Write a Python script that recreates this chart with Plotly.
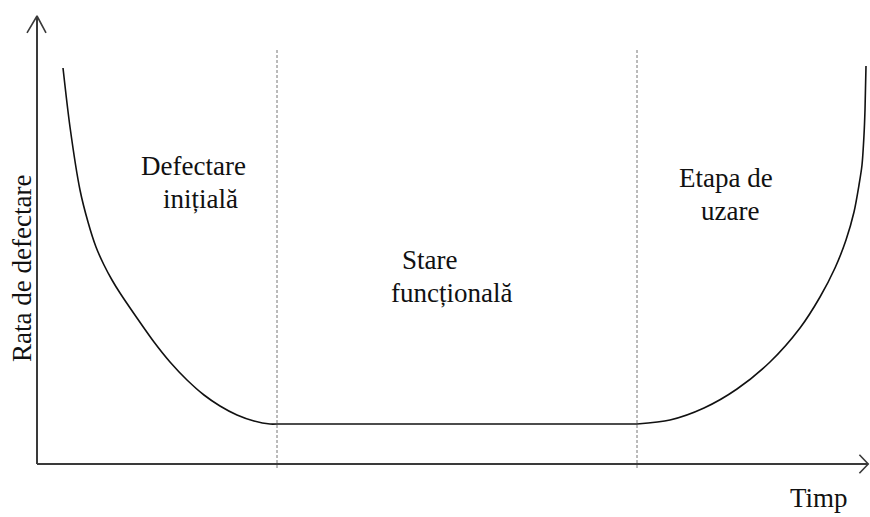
import plotly.graph_objects as go

# ---- data (time in arbitrary units, failure rate in arbitrary units) ----
left_time = [0.325, 0.4125, 0.5375, 0.6375, 0.7375, 0.8375, 0.9375, 1.0375, 1.25, 1.4625,
             1.6625, 1.875, 2.0875, 2.2875, 2.50, 2.7125, 2.9125, 3.00]
left_rate = [9.90, 8.425, 6.85, 6.05, 5.425, 4.975, 4.60, 4.275, 3.65, 3.05,
             2.55, 2.10, 1.725, 1.45, 1.225, 1.075, 1.00, 1.00]

flat_time = [3.00, 7.50]
flat_rate = [1.00, 1.00]

right_time = [7.50, 7.9125, 8.3375, 8.75, 9.1625, 9.5375, 9.7875, 9.975, 10.1125,
              10.2125, 10.275, 10.3125, 10.3375, 10.35, 10.3625]
right_rate = [1.00, 1.10, 1.40, 1.875, 2.55, 3.40, 4.175, 4.90, 5.60,
              6.30, 6.975, 7.475, 8.225, 8.85, 9.95]

phase_bounds = [3.0, 7.5]

phase_labels = [
    ("Defectare", 1.95, 7.45),
    ("inițială", 2.04, 6.62),
    ("Stare", 4.91, 5.10),
    ("funcțională", 5.18, 4.27),
    ("Etapa de", 8.61, 7.15),
    ("uzare", 8.66, 6.32),
]
x_title = "Timp"
y_title = "Rata de defectare"

# ---- layout constants ----
W, H = 870, 517
PX_PER_T = 80.0
PX_PER_R = 40.0
X0_PX, Y0_PX = 37, 464
x_range = [-X0_PX / PX_PER_T, (W - X0_PX) / PX_PER_T]
y_range = [-(H - Y0_PX) / PX_PER_R, Y0_PX / PX_PER_R]

FONT = "Liberation Serif"
FS = 27
AXIS_COLOR = "#3a3a3a"

fig = go.Figure()

curve_style = dict(color="#111111", width=1.6)
fig.add_trace(go.Scatter(x=left_time, y=left_rate, mode="lines",
                         line=dict(shape="spline", smoothing=0.8, **curve_style),
                         hoverinfo="skip", showlegend=False))
fig.add_trace(go.Scatter(x=flat_time, y=flat_rate, mode="lines",
                         line=curve_style, hoverinfo="skip", showlegend=False))
fig.add_trace(go.Scatter(x=right_time, y=right_rate, mode="lines",
                         line=dict(shape="spline", smoothing=0.8, **curve_style),
                         hoverinfo="skip", showlegend=False))

# phase boundaries (dashed)
for b in phase_bounds:
    fig.add_shape(type="line", xref="x", yref="y", x0=b, x1=b, y0=-0.1, y1=10.4,
                  line=dict(color="#777777", width=1, dash="3px,2px"))

# axes with open arrowheads
y_top = 11.2
x_end = 10.39
fig.add_shape(type="line", xref="x", yref="y", x0=0, x1=0, y0=0, y1=y_top,
              line=dict(color=AXIS_COLOR, width=2))
fig.add_shape(type="line", xref="x", yref="y", x0=0, x1=x_end, y0=0, y1=0,
              line=dict(color=AXIS_COLOR, width=2))
fig.add_trace(go.Scatter(x=[-0.125, 0, 0.1125], y=[10.78, y_top, 10.78], mode="lines",
                         line=dict(color=AXIS_COLOR, width=1.6),
                         hoverinfo="skip", showlegend=False))
fig.add_trace(go.Scatter(x=[x_end - 0.11, x_end, x_end - 0.11], y=[0.23, 0, -0.23], mode="lines",
                         line=dict(color=AXIS_COLOR, width=1.6),
                         hoverinfo="skip", showlegend=False))

for text, tx, ty in phase_labels:
    fig.add_annotation(x=tx, y=ty, xref="x", yref="y", text=text, showarrow=False,
                       font=dict(family=FONT, size=FS, color="#111111"),
                       xanchor="center", yanchor="middle")

fig.add_annotation(x=(819 - 37) / PX_PER_T, y=(464 - 498) / PX_PER_R, xref="x", yref="y",
                   text=x_title, showarrow=False,
                   font=dict(family=FONT, size=FS, color="#111111"),
                   xanchor="center", yanchor="middle")
fig.add_annotation(x=(22 - 37) / PX_PER_T, y=(464 - 269) / PX_PER_R, xref="x", yref="y",
                   text=y_title, showarrow=False, textangle=-90,
                   font=dict(family=FONT, size=FS, color="#111111"),
                   xanchor="center", yanchor="middle")

fig.update_layout(
    width=W, height=H,
    margin=dict(l=0, r=0, t=0, b=0),
    paper_bgcolor="white", plot_bgcolor="white",
    xaxis=dict(range=x_range, visible=False, fixedrange=True),
    yaxis=dict(range=y_range, visible=False, fixedrange=True),
    showlegend=False,
)

fig.write_html(
    "out.html",
    config={"displayModeBar": False},
    post_script="document.body.style.margin='0';document.body.style.overflow='hidden';",
)
